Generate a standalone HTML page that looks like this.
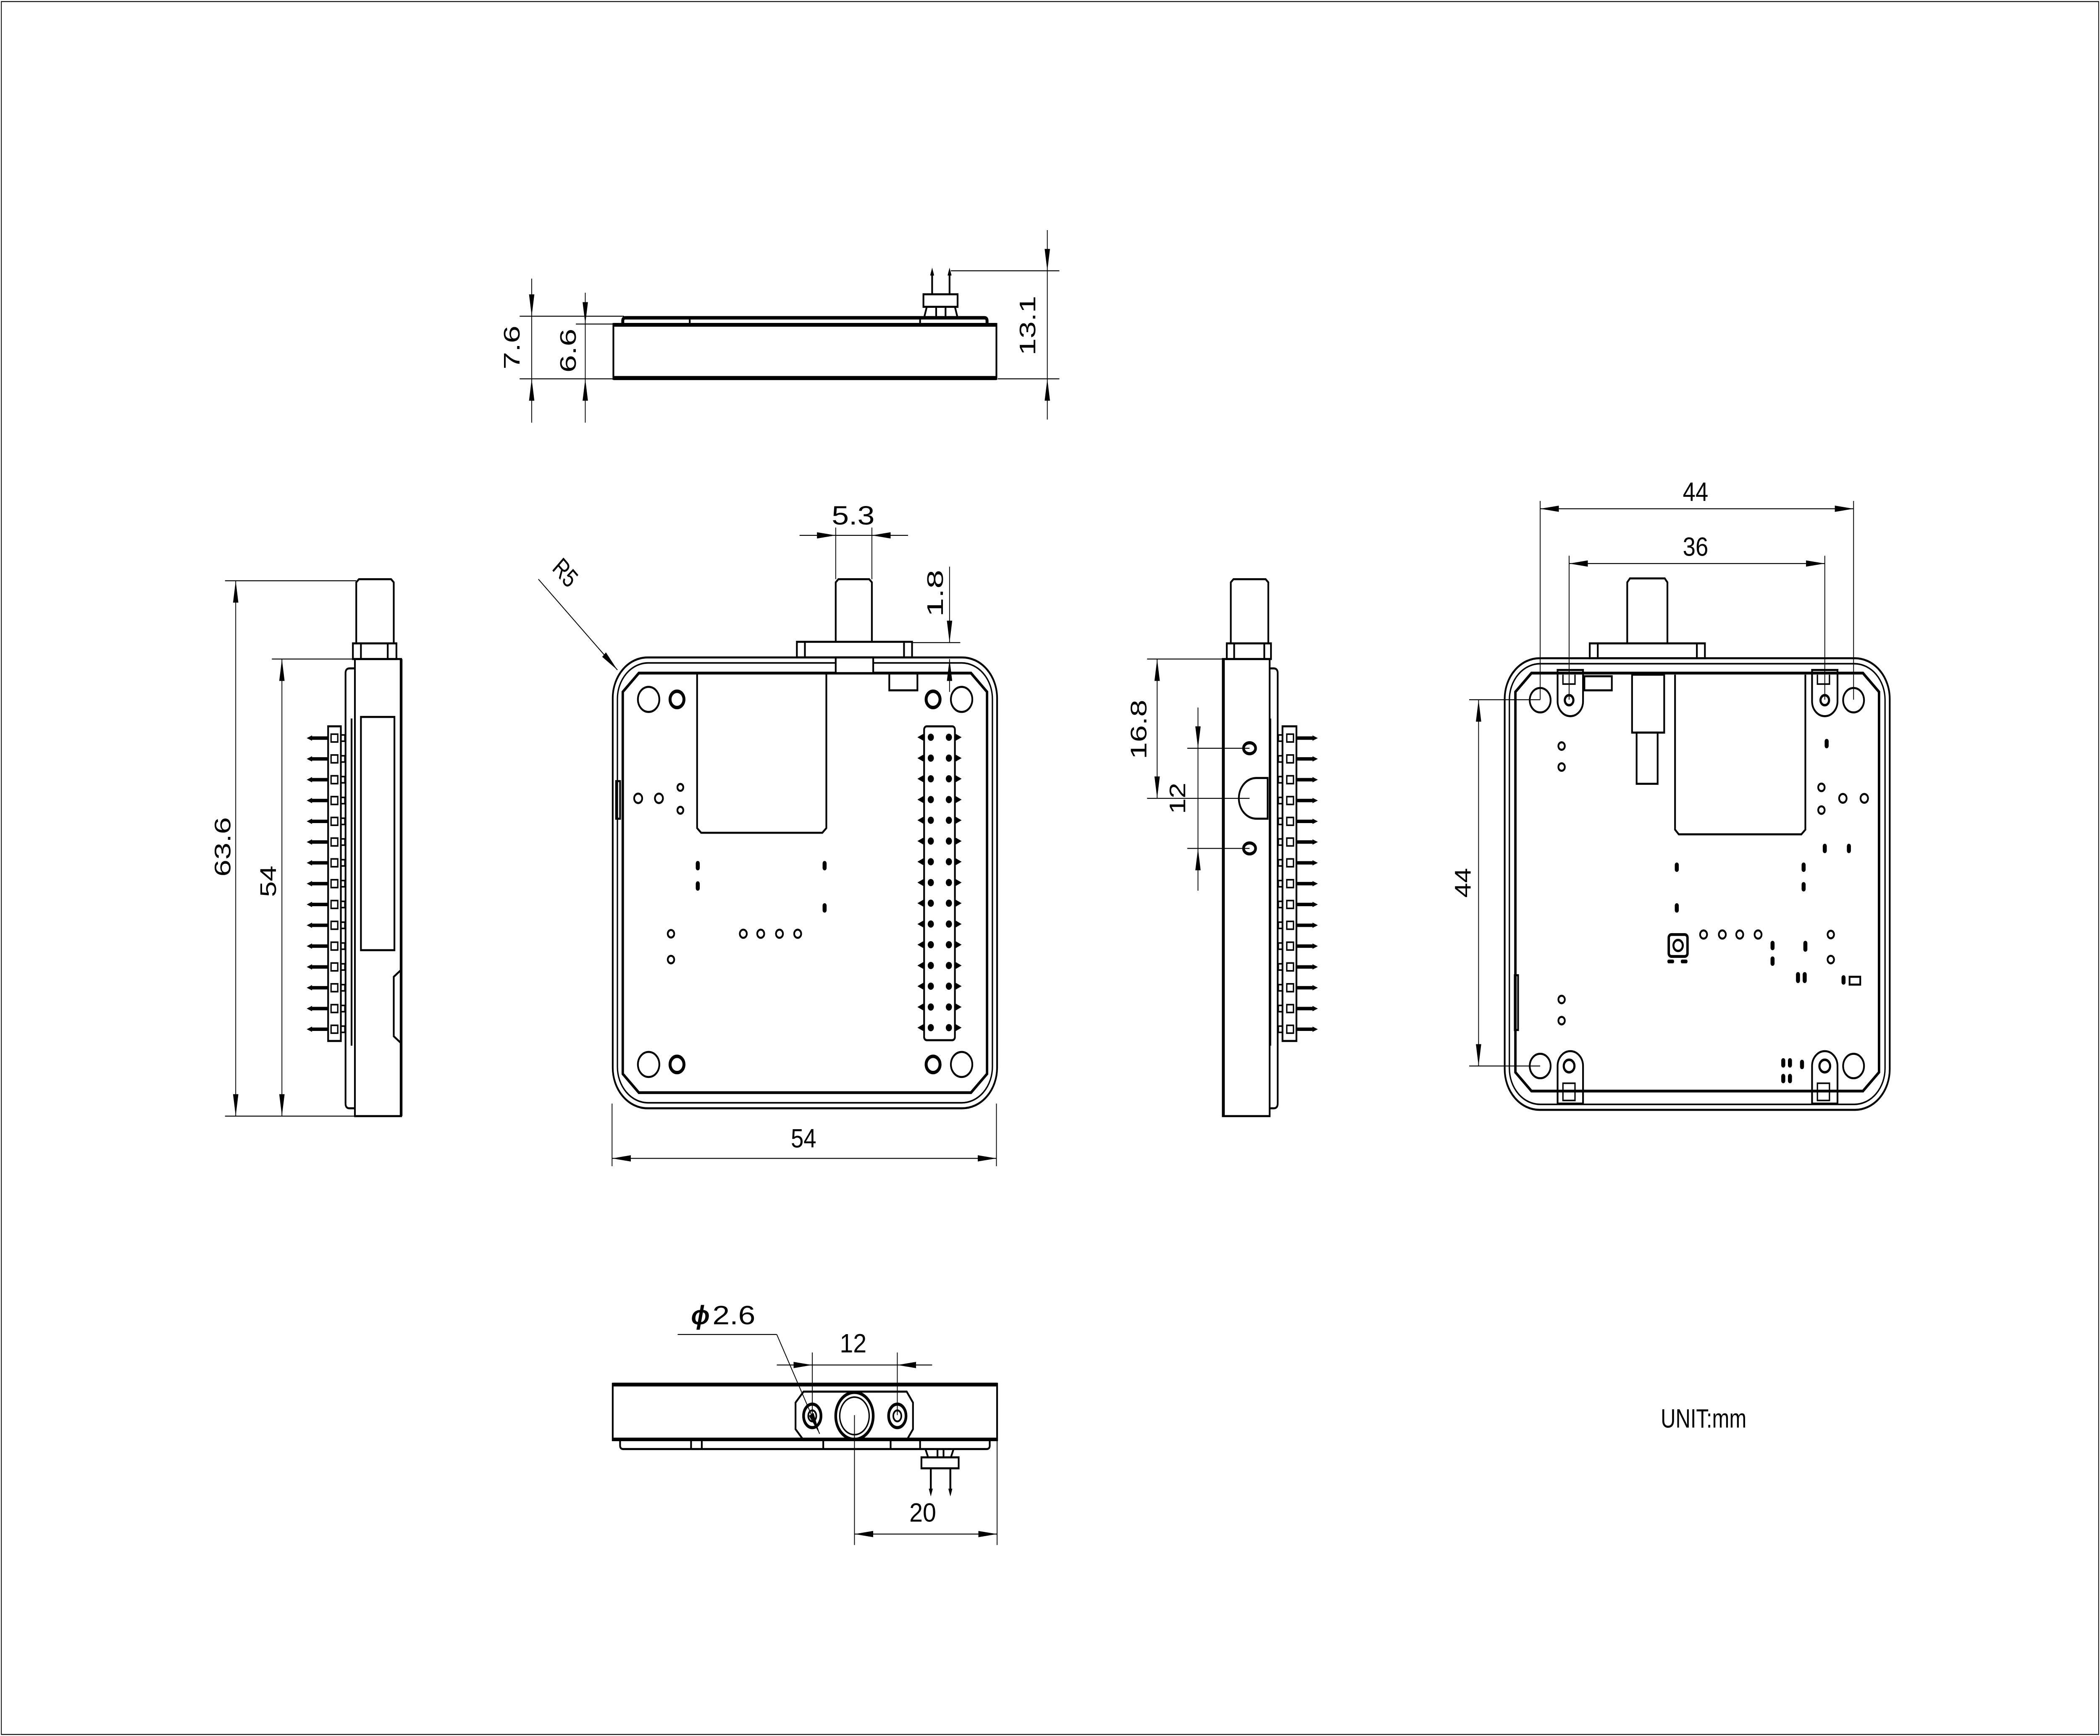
<!DOCTYPE html>
<html><head><meta charset="utf-8">
<style>
html,body{margin:0;padding:0;background:#fff;overflow:hidden;width:100%;height:100%;}
svg{display:block;position:fixed;left:0;top:0;width:100vw;height:100vh;}
.k{fill:none;stroke:#000;stroke-width:1.3;}
.t{fill:none;stroke:#000;stroke-width:0.6;}
.f{fill:#000;stroke:none;}
text{font-family:"Liberation Sans",sans-serif;font-size:17px;fill:#000;}
</style></head>
<body>
<svg viewBox="0 0 1568 1109" preserveAspectRatio="none" xmlns="http://www.w3.org/2000/svg">
<defs>
<marker id="a" viewBox="0 0 14 4" refX="14" refY="2" markerWidth="14" markerHeight="4" markerUnits="userSpaceOnUse" orient="auto-start-reverse"><path d="M0,0 L14,2 L0,4 z" fill="#000"/></marker>
</defs>
<rect x="0" y="0" width="1568" height="1109" fill="#fff"/>
<rect x="1" y="1" width="1566" height="1107" class="t" stroke-width="0.8"/>

<!-- ================= TOP VIEW ================= -->
<g class="t">
<line x1="397" y1="178" x2="397" y2="202" marker-end="url(#a)"/>
<line x1="397" y1="270" x2="397" y2="242" marker-end="url(#a)"/>
<line x1="397" y1="202" x2="397" y2="242"/>
<line x1="388" y1="202" x2="466" y2="202"/>
<line x1="388" y1="242" x2="458" y2="242"/>
<line x1="437" y1="187" x2="437" y2="207" marker-end="url(#a)"/>
<line x1="437" y1="270" x2="437" y2="242" marker-end="url(#a)"/>
<line x1="437" y1="207" x2="437" y2="242"/>
<line x1="430" y1="207" x2="458" y2="207"/>
<line x1="782" y1="147" x2="782" y2="173" marker-end="url(#a)"/>
<line x1="782" y1="268" x2="782" y2="242" marker-end="url(#a)"/>
<line x1="782" y1="173" x2="782" y2="242"/>
<line x1="710" y1="173" x2="791" y2="173"/>
<line x1="745" y1="242" x2="791" y2="242"/>
</g>
<rect x="458" y="207" width="286" height="35" class="k"/>
<line x1="458" y1="207.5" x2="744" y2="207.5" stroke="#000" stroke-width="2.4"/>
<line x1="458" y1="241.5" x2="744" y2="241.5" stroke="#000" stroke-width="2.6"/>
<path d="M465,207 L465,205 Q465,203 467,203 L735,203 Q737,203 737,205 L737,207" fill="none" stroke="#000" stroke-width="2.2"/>
<line x1="515" y1="203" x2="515" y2="207" class="k"/>
<line x1="687" y1="203" x2="687" y2="207" class="k"/>
<rect x="689.5" y="188" width="25.5" height="8" class="k"/>
<g stroke="#000" stroke-width="1.3">
<line x1="696" y1="174" x2="696" y2="188"/><line x1="709" y1="174" x2="709" y2="188"/>
<line x1="692" y1="196" x2="690" y2="203"/><line x1="699" y1="196" x2="699" y2="203"/><line x1="706" y1="196" x2="706" y2="203"/><line x1="713" y1="196" x2="715" y2="203"/>
</g>
<path d="M694.5,176 L696,171 L697.5,176z M707.5,176 L709,171 L710.5,176z" class="f"/>
<text transform="translate(388,222) rotate(-90)" text-anchor="middle" textLength="28" lengthAdjust="spacingAndGlyphs">7.6</text>
<text transform="translate(430,224) rotate(-90)" text-anchor="middle" textLength="28" lengthAdjust="spacingAndGlyphs">6.6</text>
<text transform="translate(773,208) rotate(-90)" text-anchor="middle" textLength="38" lengthAdjust="spacingAndGlyphs">13.1</text>

<!-- ================= LEFT SIDE VIEW ================= -->
<g class="t">
<line x1="168" y1="371" x2="266" y2="371"/>
<line x1="168" y1="713" x2="266" y2="713"/>
<line x1="203" y1="421" x2="264" y2="421"/>
<line x1="176" y1="371" x2="176" y2="713" marker-start="url(#a)" marker-end="url(#a)"/>
<line x1="210.5" y1="421" x2="210.5" y2="713" marker-start="url(#a)" marker-end="url(#a)"/>
</g>
<text transform="translate(172,541) rotate(-90)" text-anchor="middle" textLength="38" lengthAdjust="spacingAndGlyphs">63.6</text>
<text transform="translate(206,563) rotate(-90)" text-anchor="middle" textLength="20" lengthAdjust="spacingAndGlyphs">54</text>
<g class="k">
<path d="M266,411 L266,372 L268,370 L292,370 L294,372 L294,411"/>
<rect x="263.5" y="411" width="32.5" height="10"/>
<line x1="269.5" y1="411" x2="269.5" y2="421"/><line x1="289.5" y1="411" x2="289.5" y2="421"/>
<rect x="265" y="421" width="34.5" height="292"/>
<rect x="269.5" y="458" width="25" height="149"/>
<path d="M299,620 L294,624 L294,662 L299,666"/>
<path d="M265,427 L261,427 Q258,427 258,430 L258,705 Q258,708 261,708 L265,708"/>
<line x1="262.5" y1="459" x2="262.5" y2="668"/>
<rect x="245" y="464" width="9.5" height="201"/>
</g>
<line x1="299.5" y1="421" x2="299.5" y2="713" stroke="#000" stroke-width="2"/>
<g>
<g stroke="#000" stroke-width="1" fill="none">
<rect x="247.2" y="469" width="5" height="5"/><rect x="254.5" y="469.5" width="3" height="4"/>
<rect x="247.2" y="482.3" width="5" height="5"/><rect x="254.5" y="482.8" width="3" height="4"/>
<rect x="247.2" y="495.6" width="5" height="5"/><rect x="254.5" y="496.1" width="3" height="4"/>
<rect x="247.2" y="508.9" width="5" height="5"/><rect x="254.5" y="509.4" width="3" height="4"/>
<rect x="247.2" y="522.2" width="5" height="5"/><rect x="254.5" y="522.7" width="3" height="4"/>
<rect x="247.2" y="535.4" width="5" height="5"/><rect x="254.5" y="535.9" width="3" height="4"/>
<rect x="247.2" y="548.7" width="5" height="5"/><rect x="254.5" y="549.2" width="3" height="4"/>
<rect x="247.2" y="562" width="5" height="5"/><rect x="254.5" y="562.5" width="3" height="4"/>
<rect x="247.2" y="575.3" width="5" height="5"/><rect x="254.5" y="575.8" width="3" height="4"/>
<rect x="247.2" y="588.6" width="5" height="5"/><rect x="254.5" y="589.1" width="3" height="4"/>
<rect x="247.2" y="601.9" width="5" height="5"/><rect x="254.5" y="602.4" width="3" height="4"/>
<rect x="247.2" y="615.2" width="5" height="5"/><rect x="254.5" y="615.7" width="3" height="4"/>
<rect x="247.2" y="628.5" width="5" height="5"/><rect x="254.5" y="629" width="3" height="4"/>
<rect x="247.2" y="641.8" width="5" height="5"/><rect x="254.5" y="642.3" width="3" height="4"/>
<rect x="247.2" y="655" width="5" height="5"/><rect x="254.5" y="655.5" width="3" height="4"/>
</g>
<g stroke="#000" stroke-width="2.2">
<line x1="232" y1="471.5" x2="245" y2="471.5"/><line x1="232" y1="484.8" x2="245" y2="484.8"/><line x1="232" y1="498.1" x2="245" y2="498.1"/><line x1="232" y1="511.4" x2="245" y2="511.4"/><line x1="232" y1="524.7" x2="245" y2="524.7"/><line x1="232" y1="537.9" x2="245" y2="537.9"/><line x1="232" y1="551.2" x2="245" y2="551.2"/><line x1="232" y1="564.5" x2="245" y2="564.5"/><line x1="232" y1="577.8" x2="245" y2="577.8"/><line x1="232" y1="591.1" x2="245" y2="591.1"/><line x1="232" y1="604.4" x2="245" y2="604.4"/><line x1="232" y1="617.7" x2="245" y2="617.7"/><line x1="232" y1="631" x2="245" y2="631"/><line x1="232" y1="644.3" x2="245" y2="644.3"/><line x1="232" y1="657.5" x2="245" y2="657.5"/>
</g>
</g>
<g class="f">
<path d="M229,471.5 L233,469.8 L233,473.2z M229,484.8 L233,483.1 L233,486.5z M229,498.1 L233,496.4 L233,499.8z M229,511.4 L233,509.7 L233,513.1z M229,524.7 L233,523 L233,526.4z M229,537.9 L233,536.2 L233,539.6z M229,551.2 L233,549.5 L233,552.9z M229,564.5 L233,562.8 L233,566.2z M229,577.8 L233,576.1 L233,579.5z M229,591.1 L233,589.4 L233,592.8z M229,604.4 L233,602.7 L233,606.1z M229,617.7 L233,616 L233,619.4z M229,631 L233,629.3 L233,632.7z M229,644.3 L233,642.6 L233,646z M229,657.5 L233,655.8 L233,659.2z"/>
</g>

<!-- ================= FRONT VIEW ================= -->
<g class="t">
<line x1="624" y1="337" x2="624" y2="370"/><line x1="651" y1="337" x2="651" y2="370"/>
<line x1="597" y1="342" x2="624" y2="342" marker-end="url(#a)"/>
<line x1="678" y1="342" x2="651" y2="342" marker-end="url(#a)"/>
<line x1="624" y1="342" x2="651" y2="342"/>
<line x1="681" y1="410.5" x2="717" y2="410.5"/>
<line x1="709" y1="362" x2="709" y2="410.5" marker-end="url(#a)"/>
<line x1="709" y1="442" x2="709" y2="421" marker-end="url(#a)"/>
<line x1="402" y1="370" x2="461" y2="428" marker-end="url(#a)"/>
<line x1="457" y1="705" x2="457" y2="745"/><line x1="744" y1="705" x2="744" y2="745"/>
<line x1="457" y1="740" x2="744" y2="740" marker-start="url(#a)" marker-end="url(#a)"/>
</g>
<text x="637" y="335" text-anchor="middle" textLength="32" lengthAdjust="spacingAndGlyphs">5.3</text>
<text transform="translate(704,379) rotate(-90)" text-anchor="middle" textLength="30" lengthAdjust="spacingAndGlyphs">1.8</text>
<text transform="translate(418,370) rotate(45)" text-anchor="middle" textLength="18" lengthAdjust="spacingAndGlyphs">R5</text>
<text x="600" y="733" text-anchor="middle" textLength="19" lengthAdjust="spacingAndGlyphs">54</text>
<g class="k">
<rect x="457.5" y="420" width="287" height="288" rx="26"/>
<rect x="461" y="423.5" width="280" height="281" rx="23" stroke-width="1"/>
<path d="M477,430 L725,430 L737,442 L737,686 L725,698 L477,698 L465,686 L465,442 Z" stroke-width="1.8"/>
<path d="M624,410 L624,372 L626,370 L649,370 L651,372 L651,410"/>
<rect x="595" y="410" width="86" height="10"/>
<line x1="601" y1="410" x2="601" y2="420"/><line x1="675" y1="410" x2="675" y2="420"/>
<rect x="624" y="420" width="28" height="10" fill="#fff"/>
<rect x="664" y="430" width="21" height="11"/>
<path d="M520.5,430 L520.5,529 L523.5,532 L614,532 L617,529 L617,430"/>
<rect x="460" y="499" width="3" height="24"/>
<circle cx="484.3" cy="446.8" r="8"/><circle cx="505.5" cy="446.8" r="5.2" stroke-width="2.2"/>
<circle cx="718" cy="446.8" r="8"/><circle cx="696.7" cy="446.8" r="5.2" stroke-width="2.2"/>
<circle cx="484.3" cy="680" r="8"/><circle cx="505.5" cy="680" r="5.2" stroke-width="2.2"/>
<circle cx="718" cy="680" r="8"/><circle cx="696.7" cy="680" r="5.2" stroke-width="2.2"/>
<circle cx="476.5" cy="510" r="3"/><circle cx="492" cy="510" r="3"/>
<circle cx="508" cy="503" r="2.2"/><circle cx="508" cy="517.6" r="2.2"/>
<circle cx="555" cy="596.5" r="2.6"/><circle cx="568" cy="596.5" r="2.6"/><circle cx="582" cy="596.5" r="2.6"/><circle cx="595.6" cy="596.5" r="2.6"/>
<circle cx="501" cy="596.5" r="2.4"/><circle cx="501" cy="613" r="2.4"/>
<rect x="690" y="464" width="23" height="200.5" rx="2"/>
</g>
<g class="f">
<rect x="519.5" y="550" width="3" height="6" rx="1.5"/><rect x="519.5" y="563" width="3" height="6" rx="1.5"/>
<rect x="614.2" y="550" width="3" height="6" rx="1.5"/><rect x="614.2" y="577" width="3" height="6" rx="1.5"/>
</g>
<g class="f">
<circle cx="695" cy="471" r="2.3"/><circle cx="708.5" cy="471" r="2.3"/>
<circle cx="695" cy="484.3" r="2.3"/><circle cx="708.5" cy="484.3" r="2.3"/>
<circle cx="695" cy="497.5" r="2.3"/><circle cx="708.5" cy="497.5" r="2.3"/>
<circle cx="695" cy="510.8" r="2.3"/><circle cx="708.5" cy="510.8" r="2.3"/>
<circle cx="695" cy="524" r="2.3"/><circle cx="708.5" cy="524" r="2.3"/>
<circle cx="695" cy="537.3" r="2.3"/><circle cx="708.5" cy="537.3" r="2.3"/>
<circle cx="695" cy="550.5" r="2.3"/><circle cx="708.5" cy="550.5" r="2.3"/>
<circle cx="695" cy="563.8" r="2.3"/><circle cx="708.5" cy="563.8" r="2.3"/>
<circle cx="695" cy="577" r="2.3"/><circle cx="708.5" cy="577" r="2.3"/>
<circle cx="695" cy="590.3" r="2.3"/><circle cx="708.5" cy="590.3" r="2.3"/>
<circle cx="695" cy="603.5" r="2.3"/><circle cx="708.5" cy="603.5" r="2.3"/>
<circle cx="695" cy="616.8" r="2.3"/><circle cx="708.5" cy="616.8" r="2.3"/>
<circle cx="695" cy="630" r="2.3"/><circle cx="708.5" cy="630" r="2.3"/>
<circle cx="695" cy="643.3" r="2.3"/><circle cx="708.5" cy="643.3" r="2.3"/>
<circle cx="695" cy="656.5" r="2.3"/><circle cx="708.5" cy="656.5" r="2.3"/>
<path d="M685,471 L690,468.5 L690,473.5z M685,484.3 L690,481.8 L690,486.8z M685,497.5 L690,495 L690,500z M685,510.8 L690,508.3 L690,513.3z M685,524 L690,521.5 L690,526.5z M685,537.3 L690,534.8 L690,539.8z M685,550.5 L690,548 L690,553z M685,563.8 L690,561.3 L690,566.3z M685,577 L690,574.5 L690,579.5z M685,590.3 L690,587.8 L690,592.8z M685,603.5 L690,601 L690,606z M685,616.8 L690,614.3 L690,619.3z M685,630 L690,627.5 L690,632.5z M685,643.3 L690,640.8 L690,645.8z M685,656.5 L690,654 L690,659z"/>
<path d="M718,471 L713,468.5 L713,473.5z M718,484.3 L713,481.8 L713,486.8z M718,497.5 L713,495 L713,500z M718,510.8 L713,508.3 L713,513.3z M718,524 L713,521.5 L713,526.5z M718,537.3 L713,534.8 L713,539.8z M718,550.5 L713,548 L713,553z M718,563.8 L713,561.3 L713,566.3z M718,577 L713,574.5 L713,579.5z M718,590.3 L713,587.8 L713,592.8z M718,603.5 L713,601 L713,606z M718,616.8 L713,614.3 L713,619.3z M718,630 L713,627.5 L713,632.5z M718,643.3 L713,640.8 L713,645.8z M718,656.5 L713,654 L713,659z"/>
</g>

<!-- ================= RIGHT SIDE VIEW ================= -->
<g class="t">
<line x1="856.5" y1="421" x2="913" y2="421"/>
<line x1="856.5" y1="510" x2="933" y2="510"/>
<line x1="864" y1="421" x2="864" y2="510" marker-start="url(#a)" marker-end="url(#a)"/>
<line x1="886.5" y1="478" x2="933" y2="478"/>
<line x1="886.5" y1="542" x2="933" y2="542"/>
<line x1="894.5" y1="452" x2="894.5" y2="478" marker-end="url(#a)"/>
<line x1="894.5" y1="569" x2="894.5" y2="542" marker-end="url(#a)"/>
<line x1="894.5" y1="478" x2="894.5" y2="542"/>
</g>
<text transform="translate(856,466) rotate(-90)" text-anchor="middle" textLength="38" lengthAdjust="spacingAndGlyphs">16.8</text>
<text transform="translate(885,510) rotate(-90)" text-anchor="middle" textLength="20" lengthAdjust="spacingAndGlyphs">12</text>
<g class="k">
<path d="M919,411 L919,372 L921,370 L945,370 L947,372 L947,411"/>
<rect x="916" y="411" width="33" height="10"/>
<line x1="921.5" y1="411" x2="921.5" y2="421"/><line x1="944" y1="411" x2="944" y2="421"/>
<rect x="913" y="421" width="35" height="292"/>
<path d="M948,427 L951,427 Q954,427 954,430 L954,705 Q954,708 951,708 L948,708"/>
<line x1="948.5" y1="459" x2="948.5" y2="668"/>
<path d="M946.5,497 L938,497 A13,13 0 0 0 938,523 L946.5,523 Z"/>
<ellipse cx="933" cy="478" rx="4.5" ry="3.5" stroke-width="2"/>
<ellipse cx="933" cy="542" rx="4.5" ry="3.5" stroke-width="2"/>
<rect x="957.6" y="464" width="10.4" height="201"/>
</g>
<line x1="913.5" y1="421" x2="913.5" y2="713" stroke="#000" stroke-width="2"/>
<g transform="translate(1203,0) scale(-1,1)">
<g stroke="#000" stroke-width="1" fill="none">
<rect x="237.2" y="469" width="5" height="5"/><rect x="245.5" y="469.5" width="3" height="4"/>
<rect x="237.2" y="482.3" width="5" height="5"/><rect x="245.5" y="482.8" width="3" height="4"/>
<rect x="237.2" y="495.6" width="5" height="5"/><rect x="245.5" y="496.1" width="3" height="4"/>
<rect x="237.2" y="508.9" width="5" height="5"/><rect x="245.5" y="509.4" width="3" height="4"/>
<rect x="237.2" y="522.2" width="5" height="5"/><rect x="245.5" y="522.7" width="3" height="4"/>
<rect x="237.2" y="535.4" width="5" height="5"/><rect x="245.5" y="535.9" width="3" height="4"/>
<rect x="237.2" y="548.7" width="5" height="5"/><rect x="245.5" y="549.2" width="3" height="4"/>
<rect x="237.2" y="562" width="5" height="5"/><rect x="245.5" y="562.5" width="3" height="4"/>
<rect x="237.2" y="575.3" width="5" height="5"/><rect x="245.5" y="575.8" width="3" height="4"/>
<rect x="237.2" y="588.6" width="5" height="5"/><rect x="245.5" y="589.1" width="3" height="4"/>
<rect x="237.2" y="601.9" width="5" height="5"/><rect x="245.5" y="602.4" width="3" height="4"/>
<rect x="237.2" y="615.2" width="5" height="5"/><rect x="245.5" y="615.7" width="3" height="4"/>
<rect x="237.2" y="628.5" width="5" height="5"/><rect x="245.5" y="629" width="3" height="4"/>
<rect x="237.2" y="641.8" width="5" height="5"/><rect x="245.5" y="642.3" width="3" height="4"/>
<rect x="237.2" y="655" width="5" height="5"/><rect x="245.5" y="655.5" width="3" height="4"/>
</g>
<g stroke="#000" stroke-width="2.2">
<line x1="222" y1="471.5" x2="235" y2="471.5"/><line x1="222" y1="484.8" x2="235" y2="484.8"/><line x1="222" y1="498.1" x2="235" y2="498.1"/><line x1="222" y1="511.4" x2="235" y2="511.4"/><line x1="222" y1="524.7" x2="235" y2="524.7"/><line x1="222" y1="537.9" x2="235" y2="537.9"/><line x1="222" y1="551.2" x2="235" y2="551.2"/><line x1="222" y1="564.5" x2="235" y2="564.5"/><line x1="222" y1="577.8" x2="235" y2="577.8"/><line x1="222" y1="591.1" x2="235" y2="591.1"/><line x1="222" y1="604.4" x2="235" y2="604.4"/><line x1="222" y1="617.7" x2="235" y2="617.7"/><line x1="222" y1="631" x2="235" y2="631"/><line x1="222" y1="644.3" x2="235" y2="644.3"/><line x1="222" y1="657.5" x2="235" y2="657.5"/>
</g>
<path class="f" d="M219,471.5 L223,469.8 L223,473.2z M219,484.8 L223,483.1 L223,486.5z M219,498.1 L223,496.4 L223,499.8z M219,511.4 L223,509.7 L223,513.1z M219,524.7 L223,523 L223,526.4z M219,537.9 L223,536.2 L223,539.6z M219,551.2 L223,549.5 L223,552.9z M219,564.5 L223,562.8 L223,566.2z M219,577.8 L223,576.1 L223,579.5z M219,591.1 L223,589.4 L223,592.8z M219,604.4 L223,602.7 L223,606.1z M219,617.7 L223,616 L223,619.4z M219,631 L223,629.3 L223,632.7z M219,644.3 L223,642.6 L223,646z M219,657.5 L223,655.8 L223,659.2z"/>
</g>

<!-- ================= BACK VIEW ================= -->
<g class="t">
<line x1="1150" y1="320" x2="1150" y2="447"/><line x1="1384" y1="320" x2="1384" y2="447"/>
<line x1="1150" y1="325" x2="1384" y2="325" marker-start="url(#a)" marker-end="url(#a)"/>
<line x1="1171.6" y1="355" x2="1171.6" y2="447"/><line x1="1362.5" y1="355" x2="1362.5" y2="447"/>
<line x1="1171.6" y1="360" x2="1362.5" y2="360" marker-start="url(#a)" marker-end="url(#a)"/>
<line x1="1097" y1="447" x2="1150" y2="447"/><line x1="1097" y1="681" x2="1150" y2="681"/>
<line x1="1104" y1="447" x2="1104" y2="681" marker-start="url(#a)" marker-end="url(#a)"/>
</g>
<text x="1266" y="320" text-anchor="middle" textLength="19" lengthAdjust="spacingAndGlyphs">44</text>
<text x="1266" y="355" text-anchor="middle" textLength="19" lengthAdjust="spacingAndGlyphs">36</text>
<text transform="translate(1098,564) rotate(-90)" text-anchor="middle" textLength="19" lengthAdjust="spacingAndGlyphs">44</text>
<g class="k">
<rect x="1123.5" y="420.5" width="287.5" height="288.5" rx="26"/>
<rect x="1127" y="424" width="280.5" height="281.5" rx="23" stroke-width="1"/>
<path d="M1143.5,430 L1391,430 L1403,442 L1403,685 L1391,697 L1143.5,697 L1131.5,685 L1131.5,442 Z" stroke-width="1.8"/>
<path d="M1215,411 L1215,372 L1217,369.5 L1243,369.5 L1245,372 L1245,411"/>
<rect x="1187" y="411" width="86" height="9.5"/>
<line x1="1193" y1="411" x2="1193" y2="420"/><line x1="1267" y1="411" x2="1267" y2="420"/>
<rect x="1218.6" y="431" width="24" height="37"/>
<rect x="1222" y="468" width="15.7" height="32.7"/>
<rect x="1183" y="432" width="20.5" height="9"/>
<path d="M1250.7,431 L1250.7,530 L1253.5,533 L1345,533 L1348,530 L1348,431"/>
<circle cx="1150" cy="447.3" r="7.8"/><circle cx="1384" cy="447.3" r="7.8"/>
<circle cx="1150" cy="681" r="7.8"/><circle cx="1384" cy="681" r="7.8"/>
<path d="M1163,428 L1163,448 A9.5,9.5 0 0 0 1182,448 L1182,428 Z"/>
<path d="M1353,428 L1353,448 A9.5,9.5 0 0 0 1372,448 L1372,428 Z"/>
<path d="M1163,705 L1163,681 A9.5,9.5 0 0 1 1182,681 L1182,705 Z"/>
<path d="M1353,705 L1353,681 A9.5,9.5 0 0 1 1372,681 L1372,705 Z"/>
<path d="M1167,431 L1167,437 L1176,437 L1176,431" stroke-width="1"/>
<path d="M1357,431 L1357,437 L1366,437 L1366,431" stroke-width="1"/>
<rect x="1167" y="692" width="9" height="11" stroke-width="1"/>
<rect x="1357" y="692" width="9" height="11" stroke-width="1"/>
<circle cx="1171.6" cy="447.3" r="3.2" stroke-width="1.6"/><circle cx="1362.5" cy="447.3" r="3.2" stroke-width="1.6"/>
<circle cx="1171.6" cy="681" r="4" stroke-width="1.6"/><circle cx="1362.5" cy="681" r="4" stroke-width="1.6"/>
<circle cx="1166" cy="476.6" r="2.4"/><circle cx="1166" cy="490" r="2.4"/>
<circle cx="1166" cy="638.5" r="2.4"/><circle cx="1166" cy="652" r="2.4"/>
<circle cx="1360" cy="503" r="2.4"/><circle cx="1360" cy="517.5" r="2.4"/>
<circle cx="1376" cy="510" r="2.8"/><circle cx="1392" cy="510" r="2.8"/>
<circle cx="1272" cy="597" r="2.6"/><circle cx="1286" cy="597" r="2.6"/><circle cx="1299" cy="597" r="2.6"/><circle cx="1312.7" cy="597" r="2.6"/>
<circle cx="1367" cy="597" r="2.4"/><circle cx="1367" cy="613" r="2.4"/>
<rect x="1246" y="597" width="14" height="14" rx="2" stroke-width="1.8"/>
<circle cx="1253" cy="604" r="3.5" stroke-width="1.5"/>
<rect x="1381" y="624" width="8" height="5"/>
<rect x="1131" y="623" width="2.5" height="35"/>
</g>
<g class="f">
<rect x="1362.4" y="472" width="3" height="6" rx="1.5"/>
<rect x="1361" y="539" width="3" height="6" rx="1.5"/><rect x="1379" y="539" width="3" height="6" rx="1.5"/>
<rect x="1250.5" y="551" width="3" height="6" rx="1.5"/><rect x="1250.5" y="577" width="3" height="6" rx="1.5"/>
<rect x="1345.2" y="551" width="3" height="6" rx="1.5"/><rect x="1345.2" y="563.5" width="3" height="6" rx="1.5"/>
<rect x="1245" y="613" width="5" height="2.4" rx="1"/><rect x="1255" y="613" width="5" height="2.4" rx="1"/>
<rect x="1322" y="601" width="3" height="6" rx="1.5"/><rect x="1322" y="611" width="3" height="6" rx="1.5"/>
<rect x="1346.5" y="601" width="3" height="7" rx="1.5"/>
<rect x="1341" y="621" width="3" height="7" rx="1.5"/><rect x="1346" y="621" width="3" height="7" rx="1.5"/>
<rect x="1375" y="623" width="3" height="6" rx="1.5"/>
<rect x="1330" y="676" width="3" height="6" rx="1.5"/><rect x="1335" y="676" width="3" height="6" rx="1.5"/>
<rect x="1330" y="686" width="3" height="6" rx="1.5"/><rect x="1335" y="686" width="3" height="6" rx="1.5"/>
<rect x="1344" y="677" width="3" height="6" rx="1.5"/>
</g>

<!-- ================= BOTTOM VIEW ================= -->
<g class="t">
<line x1="606.5" y1="864" x2="606.5" y2="904"/><line x1="670" y1="864" x2="670" y2="904"/>
<line x1="580" y1="872" x2="606.5" y2="872" marker-end="url(#a)"/>
<line x1="696" y1="872" x2="670" y2="872" marker-end="url(#a)"/>
<line x1="606.5" y1="872" x2="670" y2="872"/>
<line x1="506" y1="852.5" x2="580" y2="852.5"/>
<line x1="580" y1="852.5" x2="612" y2="916" marker-end="url(#a)"/>
<line x1="638" y1="904" x2="638" y2="987"/>
<line x1="744.5" y1="920" x2="744.5" y2="987"/>
<line x1="638" y1="980" x2="744.5" y2="980" marker-start="url(#a)" marker-end="url(#a)"/>
</g>
<text x="637" y="864" text-anchor="middle" textLength="20" lengthAdjust="spacingAndGlyphs">12</text>
<text x="689" y="972" text-anchor="middle" textLength="20" lengthAdjust="spacingAndGlyphs">20</text>
<text x="516" y="846" font-weight="bold" font-style="italic" textLength="14" lengthAdjust="spacingAndGlyphs">ϕ</text>
<text x="532" y="846" textLength="32" lengthAdjust="spacingAndGlyphs">2.6</text>
<g class="k">
<rect x="457.5" y="884" width="287" height="36"/>
<path d="M463,920 L463,923.5 Q463,925.7 465.5,925.7 L736.5,925.7 Q739,925.7 739,923.5 L739,920"/>
<line x1="516" y1="920" x2="516" y2="925.7"/><line x1="524" y1="920" x2="524" y2="925.7"/>
<line x1="614.7" y1="920" x2="614.7" y2="925.7"/><line x1="665" y1="920" x2="665" y2="925.7"/><line x1="687" y1="920" x2="687" y2="925.7"/>
<path d="M600,889 L677,889 L681.7,896 L681.7,913 L677,920 L600,920 L594,913 L594,896 Z"/>
<ellipse cx="606.5" cy="904.5" rx="6.5" ry="7.5" stroke-width="2"/>
<ellipse cx="606.5" cy="904.5" rx="3" ry="3.5" stroke-width="1.2"/>
<ellipse cx="638" cy="904.5" rx="14" ry="15" stroke-width="2"/>
<ellipse cx="638" cy="904.5" rx="11" ry="12" stroke-width="1"/>
<ellipse cx="670" cy="904.5" rx="6.5" ry="7.5" stroke-width="2"/>
<ellipse cx="670" cy="904.5" rx="3" ry="3.5" stroke-width="1.2"/>
<rect x="688" y="931" width="27.8" height="7"/>
<line x1="691" y1="925.7" x2="693" y2="931"/><line x1="712" y1="925.7" x2="710" y2="931"/>
<line x1="700" y1="925.7" x2="700" y2="931"/><line x1="704.5" y1="925.7" x2="704.5" y2="931"/>
</g>
<line x1="457.5" y1="884.5" x2="744.5" y2="884.5" stroke="#000" stroke-width="2.4"/>
<line x1="457.5" y1="919.5" x2="744.5" y2="919.5" stroke="#000" stroke-width="2.2"/>
<g stroke="#000" stroke-width="1.4">
<line x1="695" y1="938" x2="695" y2="952"/><line x1="709.6" y1="938" x2="709.6" y2="952"/>
</g>
<path class="f" d="M693.5,951 L695,956 L696.5,951z M708.1,951 L709.6,956 L711.1,951z"/>

<text x="1272" y="912" text-anchor="middle" font-size="16" textLength="64" lengthAdjust="spacingAndGlyphs">UNIT:mm</text>
</svg>
</body></html>
